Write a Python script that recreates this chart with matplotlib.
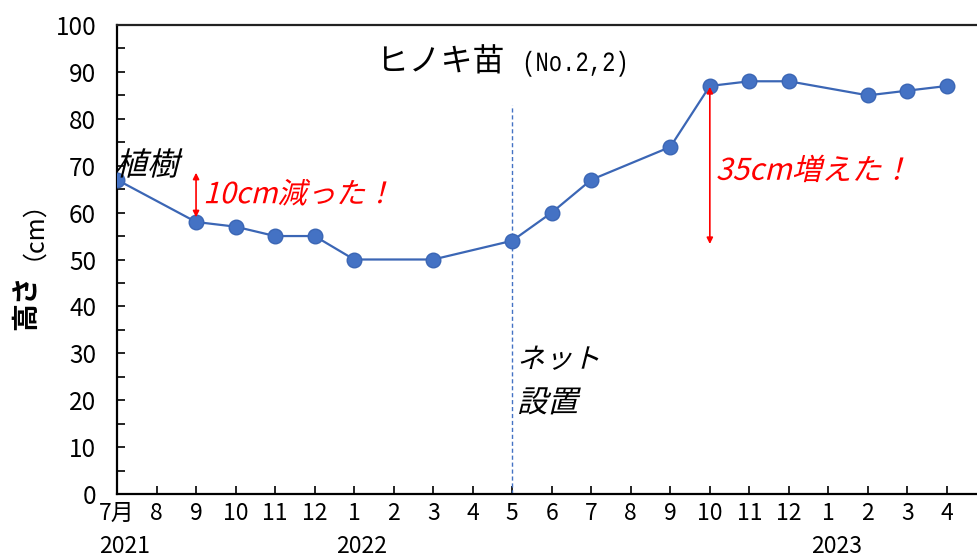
import numpy as np
import matplotlib
matplotlib.use("Agg")
import matplotlib.pyplot as plt
from matplotlib.textpath import TextPath
from matplotlib.patches import PathPatch
from matplotlib.font_manager import FontProperties
import matplotlib.transforms as mtransforms

plt.rcParams['font.family'] = ['Noto Sans CJK JP', 'DejaVu Sans']

# month index 0 = 2021-07 ... 21 = 2023-04
month_labels = ['7月', '8', '9', '10', '11', '12', '1', '2', '3', '4', '5',
                '6', '7', '8', '9', '10', '11', '12', '1', '2', '3', '4']
year_labels = ['2021', '2022', '2023']
year_pos = [0, 6, 18]

# measurement months and heights (cm)
meas_idx = [0, 2, 3, 4, 5, 6, 8, 10, 11, 12, 14, 15, 16, 17, 19, 20, 21]
height = [67, 58, 57, 55, 55, 50, 50, 54, 60, 67, 74, 87, 88, 88, 85, 86, 87]

net_idx = 10
BLUE = '#4472C4'

fig = plt.figure(figsize=(9.77, 5.57), dpi=100)
ax = fig.add_axes([117 / 977, 63 / 557, 1 - 117 / 977, 469 / 557])

ax.plot(meas_idx, height, color='#3B66B5', lw=1.6, marker='o', ms=10.5,
        markerfacecolor=BLUE, markeredgecolor='#3B66B5', zorder=3)

# net installation marker line
ax.plot([net_idx, net_idx], [0, 83], color=BLUE, lw=1, ls=(0, (3, 2)), zorder=2)

ax.set_xlim(0, 21.76)
ax.set_ylim(0, 100)
ax.set_xticks(range(len(month_labels)))
ax.set_xticklabels(month_labels, fontsize=16.5)
ax.set_yticks(range(0, 101, 10))
ax.set_yticks(range(5, 100, 10), minor=True)
ax.tick_params(axis='y', labelsize=17.5)
ax.tick_params(axis='x', which='major', direction='in', length=6, width=1.2, pad=6)
ax.tick_params(axis='y', which='both', direction='in', length=6, width=1.2, pad=15)
ax.tick_params(axis='both', colors='black')

for side in ['left', 'bottom', 'top']:
    ax.spines[side].set_linewidth(1.6)
ax.spines['top'].set_color('#222222')
ax.spines['right'].set_visible(False)

for yr, pos in zip(year_labels, year_pos):
    ax.text(pos + 0.2, -0.113, yr, transform=ax.get_xaxis_transform(),
            ha='center', va='center', fontsize=16.5)

# y axis label: bold part + regular part
ax.text(-0.105, 0.468, '高さ', transform=ax.transAxes, rotation=90,
        ha='center', va='top', fontsize=20, fontweight='bold')
ax.text(-0.113, 0.5, '（cm）', transform=ax.transAxes, rotation=90,
        ha='center', va='bottom', fontsize=18)


def path_text(x, y, s, size, color, skew=0, xscale=1.0, family='Noto Sans CJK JP'):
    # text drawn as a path (optionally sheared / narrowed), anchored at baseline-left
    prop = FontProperties(family=family, size=size)
    path = TextPath((0, 0), s, prop=prop)
    tr = (mtransforms.Affine2D().skew_deg(skew, 0).scale(xscale, 1)
          .scale(fig.dpi / 72)
          + mtransforms.ScaledTranslation(x, y, ax.transData))
    ax.add_patch(PathPatch(path, transform=tr, facecolor=color,
                           edgecolor='none', clip_on=False, zorder=4))


# title inside the plot
path_text(6.57, 90.2, 'ヒノキ苗', 23, 'black')
path_text(10.25, 90.2, '(No.2,2)', 20, 'black', xscale=0.8, family='Liberation Mono')

path_text(-0.05, 68.0, '植樹', 23, 'black', skew=14)
path_text(2.18, 62.0, '10cm減った！', 21, 'red', skew=14)
path_text(15.15, 67.0, '35cm増えた！', 21.5, 'red', skew=14)
path_text(10.12, 26.9, 'ネット', 20, 'black', skew=14)
path_text(10.12, 17.5, '設置', 22, 'black', skew=14)

# red double-headed arrows showing the change
arrow_kw = dict(arrowstyle='<|-|>', color='red', lw=1.2,
                mutation_scale=9, shrinkA=0, shrinkB=0)
ax.annotate('', xy=(2, 59), xytext=(2, 68.5), arrowprops=arrow_kw)
ax.annotate('', xy=(15, 53.3), xytext=(15, 86.8), arrowprops=arrow_kw)

fig.savefig('out.png', dpi=100)
